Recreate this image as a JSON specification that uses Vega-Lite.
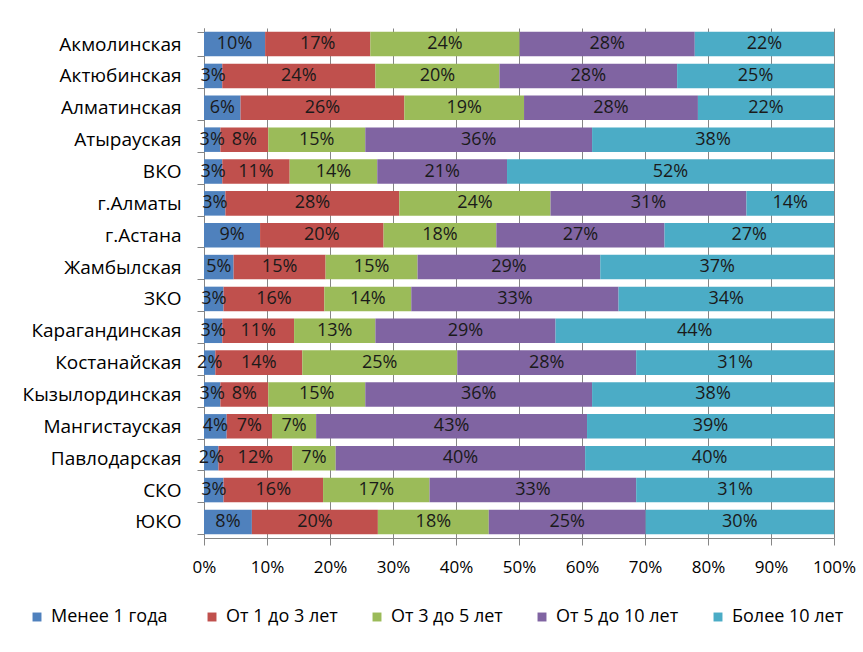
{
  "$schema": "https://vega.github.io/schema/vega-lite/v6.json",
  "autosize": {"type": "none"},
  "width": 630,
  "height": 510,
  "padding": {"left": 204, "top": 28, "right": 29, "bottom": 114},
  "background": "white",
  "config": {
    "font": "Open Sans",
    "view": {"stroke": null}
  },
  "data": {
    "values": [
      {"region": "Акмолинская", "cat": "Менее  1 года", "ord": 1, "v": 0.097},
      {"region": "Акмолинская", "cat": "От 1 до 3 лет", "ord": 2, "v": 0.167},
      {"region": "Акмолинская", "cat": "От 3 до 5 лет", "ord": 3, "v": 0.237},
      {"region": "Акмолинская", "cat": "От 5 до 10 лет", "ord": 4, "v": 0.278},
      {"region": "Акмолинская", "cat": "Более 10 лет", "ord": 5, "v": 0.221},
      {"region": "Актюбинская", "cat": "Менее  1 года", "ord": 1, "v": 0.029},
      {"region": "Актюбинская", "cat": "От 1 до 3 лет", "ord": 2, "v": 0.243},
      {"region": "Актюбинская", "cat": "От 3 до 5 лет", "ord": 3, "v": 0.197},
      {"region": "Актюбинская", "cat": "От 5 до 10 лет", "ord": 4, "v": 0.282},
      {"region": "Актюбинская", "cat": "Более 10 лет", "ord": 5, "v": 0.249},
      {"region": "Алматинская", "cat": "Менее  1 года", "ord": 1, "v": 0.058},
      {"region": "Алматинская", "cat": "От 1 до 3 лет", "ord": 2, "v": 0.26},
      {"region": "Алматинская", "cat": "От 3 до 5 лет", "ord": 3, "v": 0.19},
      {"region": "Алматинская", "cat": "От 5 до 10 лет", "ord": 4, "v": 0.276},
      {"region": "Алматинская", "cat": "Более 10 лет", "ord": 5, "v": 0.216},
      {"region": "Атырауская", "cat": "Менее  1 года", "ord": 1, "v": 0.026},
      {"region": "Атырауская", "cat": "От 1 до 3 лет", "ord": 2, "v": 0.076},
      {"region": "Атырауская", "cat": "От 3 до 5 лет", "ord": 3, "v": 0.154},
      {"region": "Атырауская", "cat": "От 5 до 10 лет", "ord": 4, "v": 0.36},
      {"region": "Атырауская", "cat": "Более 10 лет", "ord": 5, "v": 0.384},
      {"region": "ВКО", "cat": "Менее  1 года", "ord": 1, "v": 0.029},
      {"region": "ВКО", "cat": "От 1 до 3 лет", "ord": 2, "v": 0.107},
      {"region": "ВКО", "cat": "От 3 до 5 лет", "ord": 3, "v": 0.139},
      {"region": "ВКО", "cat": "От 5 до 10 лет", "ord": 4, "v": 0.206},
      {"region": "ВКО", "cat": "Более 10 лет", "ord": 5, "v": 0.519},
      {"region": "г.Алматы", "cat": "Менее  1 года", "ord": 1, "v": 0.034},
      {"region": "г.Алматы", "cat": "От 1 до 3 лет", "ord": 2, "v": 0.276},
      {"region": "г.Алматы", "cat": "От 3 до 5 лет", "ord": 3, "v": 0.24},
      {"region": "г.Алматы", "cat": "От 5 до 10 лет", "ord": 4, "v": 0.311},
      {"region": "г.Алматы", "cat": "Более 10 лет", "ord": 5, "v": 0.139},
      {"region": "г.Астана", "cat": "Менее  1 года", "ord": 1, "v": 0.089},
      {"region": "г.Астана", "cat": "От 1 до 3 лет", "ord": 2, "v": 0.196},
      {"region": "г.Астана", "cat": "От 3 до 5 лет", "ord": 3, "v": 0.179},
      {"region": "г.Астана", "cat": "От 5 до 10 лет", "ord": 4, "v": 0.267},
      {"region": "г.Астана", "cat": "Более 10 лет", "ord": 5, "v": 0.269},
      {"region": "Жамбылская", "cat": "Менее  1 года", "ord": 1, "v": 0.047},
      {"region": "Жамбылская", "cat": "От 1 до 3 лет", "ord": 2, "v": 0.146},
      {"region": "Жамбылская", "cat": "От 3 до 5 лет", "ord": 3, "v": 0.146},
      {"region": "Жамбылская", "cat": "От 5 до 10 лет", "ord": 4, "v": 0.29},
      {"region": "Жамбылская", "cat": "Более 10 лет", "ord": 5, "v": 0.371},
      {"region": "ЗКО", "cat": "Менее  1 года", "ord": 1, "v": 0.031},
      {"region": "ЗКО", "cat": "От 1 до 3 лет", "ord": 2, "v": 0.16},
      {"region": "ЗКО", "cat": "От 3 до 5 лет", "ord": 3, "v": 0.138},
      {"region": "ЗКО", "cat": "От 5 до 10 лет", "ord": 4, "v": 0.329},
      {"region": "ЗКО", "cat": "Более 10 лет", "ord": 5, "v": 0.342},
      {"region": "Карагандинская", "cat": "Менее  1 года", "ord": 1, "v": 0.029},
      {"region": "Карагандинская", "cat": "От 1 до 3 лет", "ord": 2, "v": 0.114},
      {"region": "Карагандинская", "cat": "От 3 до 5 лет", "ord": 3, "v": 0.129},
      {"region": "Карагандинская", "cat": "От 5 до 10 лет", "ord": 4, "v": 0.286},
      {"region": "Карагандинская", "cat": "Более 10 лет", "ord": 5, "v": 0.442},
      {"region": "Костанайская", "cat": "Менее  1 года", "ord": 1, "v": 0.018},
      {"region": "Костанайская", "cat": "От 1 до 3 лет", "ord": 2, "v": 0.138},
      {"region": "Костанайская", "cat": "От 3 до 5 лет", "ord": 3, "v": 0.246},
      {"region": "Костанайская", "cat": "От 5 до 10 лет", "ord": 4, "v": 0.284},
      {"region": "Костанайская", "cat": "Более 10 лет", "ord": 5, "v": 0.314},
      {"region": "Кызылординская", "cat": "Менее  1 года", "ord": 1, "v": 0.026},
      {"region": "Кызылординская", "cat": "От 1 до 3 лет", "ord": 2, "v": 0.076},
      {"region": "Кызылординская", "cat": "От 3 до 5 лет", "ord": 3, "v": 0.154},
      {"region": "Кызылординская", "cat": "От 5 до 10 лет", "ord": 4, "v": 0.36},
      {"region": "Кызылординская", "cat": "Более 10 лет", "ord": 5, "v": 0.384},
      {"region": "Мангистауская", "cat": "Менее  1 года", "ord": 1, "v": 0.036},
      {"region": "Мангистауская", "cat": "От 1 до 3 лет", "ord": 2, "v": 0.072},
      {"region": "Мангистауская", "cat": "От 3 до 5 лет", "ord": 3, "v": 0.07},
      {"region": "Мангистауская", "cat": "От 5 до 10 лет", "ord": 4, "v": 0.43},
      {"region": "Мангистауская", "cat": "Более 10 лет", "ord": 5, "v": 0.392},
      {"region": "Павлодарская", "cat": "Менее  1 года", "ord": 1, "v": 0.023},
      {"region": "Павлодарская", "cat": "От 1 до 3 лет", "ord": 2, "v": 0.117},
      {"region": "Павлодарская", "cat": "От 3 до 5 лет", "ord": 3, "v": 0.069},
      {"region": "Павлодарская", "cat": "От 5 до 10 лет", "ord": 4, "v": 0.396},
      {"region": "Павлодарская", "cat": "Более 10 лет", "ord": 5, "v": 0.395},
      {"region": "СКО", "cat": "Менее  1 года", "ord": 1, "v": 0.031},
      {"region": "СКО", "cat": "От 1 до 3 лет", "ord": 2, "v": 0.158},
      {"region": "СКО", "cat": "От 3 до 5 лет", "ord": 3, "v": 0.169},
      {"region": "СКО", "cat": "От 5 до 10 лет", "ord": 4, "v": 0.328},
      {"region": "СКО", "cat": "Более 10 лет", "ord": 5, "v": 0.314},
      {"region": "ЮКО", "cat": "Менее  1 года", "ord": 1, "v": 0.076},
      {"region": "ЮКО", "cat": "От 1 до 3 лет", "ord": 2, "v": 0.2},
      {"region": "ЮКО", "cat": "От 3 до 5 лет", "ord": 3, "v": 0.176},
      {"region": "ЮКО", "cat": "От 5 до 10 лет", "ord": 4, "v": 0.249},
      {"region": "ЮКО", "cat": "Более 10 лет", "ord": 5, "v": 0.299}
    ]
  },
  "transform": [
    {"stack": "v", "groupby": ["region"], "sort": [{"field": "ord"}], "offset": "normalize", "as": ["x0", "x1"]},
    {"calculate": "(datum.x0 + datum.x1) / 2", "as": "xm"}
  ],
  "encoding": {
    "y": {
      "field": "region", "type": "nominal", "sort": null, "title": null,
      "scale": {"paddingInner": 0.23, "paddingOuter": 0.12},
      "axis": {
        "labelFontSize": 19, "labelColor": "#000000", "labelPadding": 16,
        "tickBand": "extent", "tickSize": 7, "tickColor": "#868686",
        "domainColor": "#868686", "labelLimit": 250
      }
    }
  },
  "layer": [
    {
      "mark": {"type": "bar"},
      "encoding": {
        "x": {
          "field": "x0", "type": "quantitative", "title": null,
          "scale": {"domain": [0, 1], "nice": false},
          "axis": {
            "format": ".0%", "values": [0, 0.1, 0.2, 0.3, 0.4, 0.5, 0.6, 0.7, 0.8, 0.9, 1],
            "labelFontSize": 17, "labelColor": "#000000", "labelPadding": 14, "labelFlush": false,
            "tickSize": 7, "tickColor": "#868686", "domainColor": "#868686",
            "grid": true, "gridColor": "#868686", "gridWidth": 1
          }
        },
        "x2": {"field": "x1"},
        "color": {
          "field": "cat", "type": "nominal", "sort": null,
          "scale": {
            "domain": ["Менее  1 года", "От 1 до 3 лет", "От 3 до 5 лет", "От 5 до 10 лет", "Более 10 лет"],
            "range": ["#4F81BD", "#C0504D", "#9BBB59", "#8064A2", "#4BACC6"]
          },
          "legend": {
            "title": null, "orient": "none", "direction": "horizontal", "columns": 5,
            "legendX": -176, "legendY": 580, "symbolType": "square", "symbolSize": 80,
            "symbolStrokeWidth": 0, "labelFontSize": 18, "labelColor": "#000000",
            "columnPadding": 30, "labelOffset": 5
          }
        },
        "order": {"field": "ord"}
      }
    },
    {
      "mark": {"type": "text", "fontSize": 18, "color": "#1a1a1a", "baseline": "middle", "align": "center"},
      "encoding": {
        "x": {"field": "xm", "type": "quantitative"},
        "text": {"field": "v", "type": "quantitative", "format": ".0%"}
      }
    }
  ]
}
